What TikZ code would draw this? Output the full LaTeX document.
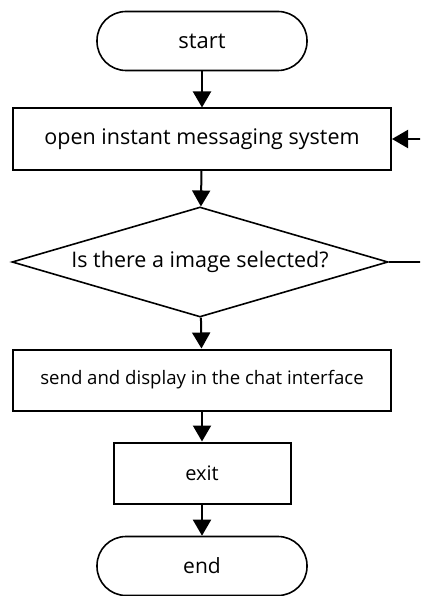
\documentclass[tikz,border=0pt]{standalone}
\usepackage{fontspec}
\setmainfont{Open Sans}
\usetikzlibrary{shapes.geometric,arrows.meta}
\begin{document}
\begin{tikzpicture}[
        x=1pt, y=1pt,
        terminal/.style={draw, line width=1.6pt, rounded corners=29pt, minimum width=210pt, minimum height=59pt, font=\fontsize{22}{26}\selectfont},
        process/.style={draw, line width=2pt, minimum width=378pt, minimum height=61pt, font=\fontsize{21.5}{25}\selectfont},
        decision/.style={draw, diamond, aspect=3.42, line width=1.6pt, minimum width=376pt, minimum height=110pt, inner sep=0pt, font=\fontsize{21.5}{25}\selectfont},
        flow/.style={draw, line width=2pt, -{Triangle[length=16pt, width=18pt]}}
    ]
	\clip (0,0) rectangle (420,-596);
	\node[terminal] (start) at (202,-41) {start};
	\node[process] (open) at (202,-139) {open instant messaging system};
	\node[decision] (select) at (200,-262) {Is there a image selected?};
	\node[process, font=\fontsize{18.6}{22}\selectfont] (send) at (202,-380) {send and display in the chat interface};
	\node[process, minimum width=177pt, font=\fontsize{20}{24}\selectfont] (exit) at (202,-473) {exit};
	\node[terminal, font=\fontsize{21}{25}\selectfont] (end) at (202,-566) {end};
	\coordinate (back_a) at (430,-262);
	\coordinate (back_b) at (430,-139);
	\draw[flow] (start) -- (open);
	\draw[flow] (open) -- (select);
	\draw[flow] (select) -- (send);
	\draw[flow] (send) -- (exit);
	\draw[flow] (exit) -- (end);
	\draw[flow] (select.east) -- (back_a) -- (back_b) -- (open.east);
\end{tikzpicture}
\end{document}
